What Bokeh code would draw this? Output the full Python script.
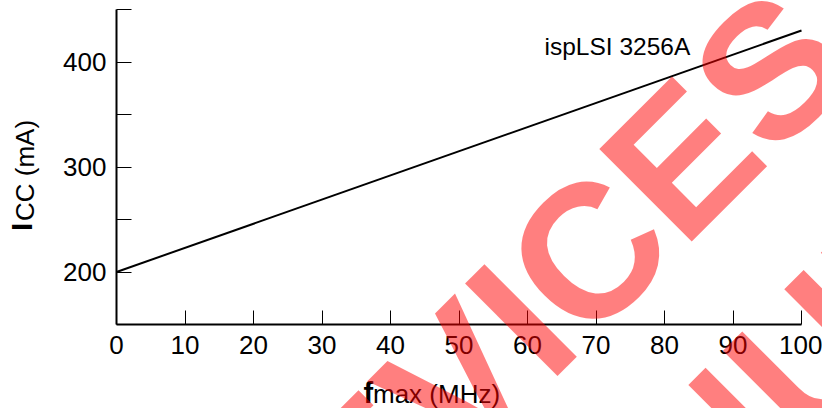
import math
from bokeh.plotting import figure
from bokeh.models import Label, FixedTicker, Range1d
from bokeh.embed import file_html
from bokeh.resources import INLINE

# ---------------- data ----------------
fmax_mhz = [0, 100]
icc_ma = [200, 430]
x_ticks = [0, 10, 20, 30, 40, 50, 60, 70, 80, 90, 100]
y_major_ticks = [200, 300, 400]
y_minor_ticks = [250, 350, 450]
x_axis_span = (0, 100)
y_axis_span = (150, 450)
series_name = "ispLSI 3256A"
x_title_bold, x_title_rest = "f", "max (MHz)"
y_title_bold, y_title_rest = "I", "CC (mA)"
watermark_lines = ["DEVICES", "DISCONTINUED"]

# ---------------- layout ----------------
W, H = 822, 408
OFF = 1                 # canvas origin inside the picture
AX_X, AX_Y = 117, 325   # pixel of data origin (x=0, y=150)
PX_PER_X = 6.85
PX_PER_Y = 1.05
FONT = "Liberation Sans"


def dx(px):
    return x_axis_span[0] + (px - AX_X) / PX_PER_X


def dy(py):
    return y_axis_span[0] + (AX_Y - py) / PX_PER_Y


x_range = Range1d(dx(OFF), dx(OFF + W))
y_range = Range1d(dy(OFF + H), dy(OFF))

p = figure(width=W, height=H, x_range=x_range, y_range=y_range,
           output_backend="svg", toolbar_location=None,
           min_border=0, min_border_left=0, min_border_right=0,
           min_border_top=0, min_border_bottom=0)
p.xgrid.visible = False
p.ygrid.visible = False
p.outline_line_color = None
p.background_fill_color = "white"
p.border_fill_color = "white"

for ax in (p.xaxis, p.yaxis):
    ax.axis_line_width = 2
    ax.axis_line_color = "black"
    ax.major_tick_line_color = "black"
    ax.minor_tick_line_color = "black"
    ax.major_tick_line_width = 1
    ax.minor_tick_line_width = 1
    ax.major_tick_out = 0
    ax.minor_tick_out = 0
    ax.major_label_text_font = FONT
    ax.major_label_text_font_size = "26px"
    ax.major_label_text_color = "black"

p.xaxis.fixed_location = y_axis_span[0]
p.xaxis.bounds = x_axis_span
p.xaxis.ticker = FixedTicker(ticks=x_ticks)
p.xaxis.major_tick_in = 14
p.xaxis.major_label_standoff = 11

p.yaxis.fixed_location = x_axis_span[0]
p.yaxis.bounds = y_axis_span
p.yaxis.ticker = FixedTicker(ticks=y_major_ticks, minor_ticks=y_minor_ticks)
p.yaxis.major_tick_in = 15
p.yaxis.minor_tick_in = 15
p.yaxis.major_label_standoff = 10

p.line(fmax_mhz, icc_ma, line_color="black", line_width=2)


def add_label(px, py, text, size, bold=False, angle=0.0, color="black", alpha=1.0, level="annotation"):
    # (px, py): bottom-left anchor of the text box, in picture pixels
    p.add_layout(Label(x=dx(px), y=dy(py), text=text, angle=angle,
                       text_font=FONT, text_font_style="bold" if bold else "normal",
                       text_font_size=size, text_color=color, text_alpha=alpha,
                       text_align="left", level=level))


add_label(545, 60.5, series_name, "24.5px")

# axis titles
add_label(364, 409, x_title_bold, "29px", bold=True)
add_label(373.5, 409, x_title_rest, "26px")
add_label(38.5, 231.5, y_title_bold, "30px", bold=True, angle=math.pi / 2)
add_label(40, 221.5, y_title_rest, "26px", angle=math.pi / 2)

# watermark
wm_origins = [(301, 690), (97, 1219)]
for txt, (ox, oy) in zip(watermark_lines, wm_origins):
    add_label(ox, oy, txt, "190px", bold=True, angle=math.pi / 4,
              color="#ff0000", alpha=0.5, level="overlay")

open("out.html", "w").write(file_html(p, INLINE))
